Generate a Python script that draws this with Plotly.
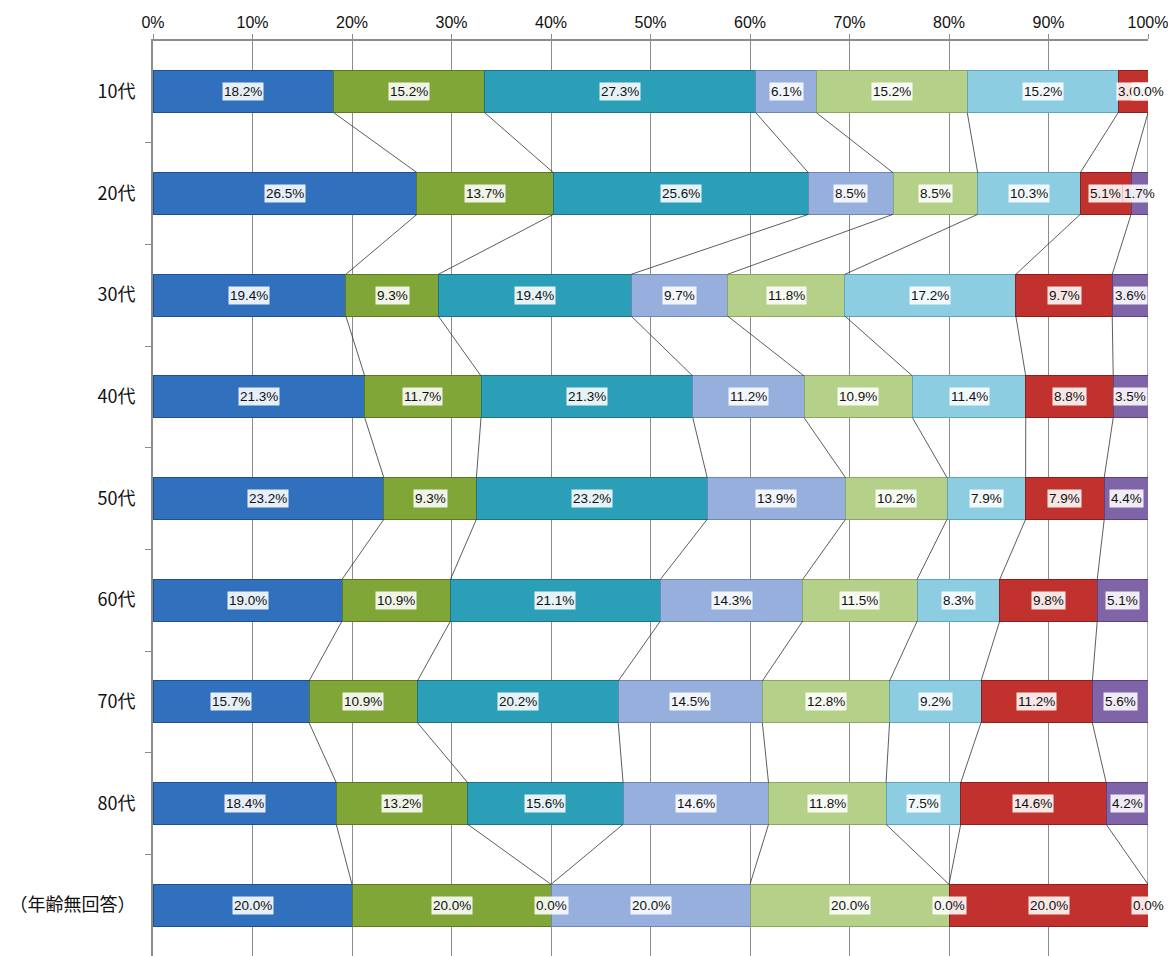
import numpy as np
import plotly.graph_objects as go

# age groups (rows, top to bottom)
categories = ['10代', '20代', '30代', '40代', '50代', '60代', '70代', '80代', '（年齢無回答）']

# one list per series, values in % for each age group
s1 = [18.2, 26.5, 19.4, 21.3, 23.2, 19.0, 15.7, 18.4, 20.0]
s2 = [15.2, 13.7, 9.3, 11.7, 9.3, 10.9, 10.9, 13.2, 20.0]
s3 = [27.3, 25.6, 19.4, 21.3, 23.2, 21.1, 20.2, 15.6, 0.0]
s4 = [6.1, 8.5, 9.7, 11.2, 13.9, 14.3, 14.5, 14.6, 20.0]
s5 = [15.2, 8.5, 11.8, 10.9, 10.2, 11.5, 12.8, 11.8, 20.0]
s6 = [15.2, 10.3, 17.2, 11.4, 7.9, 8.3, 9.2, 7.5, 0.0]
s7 = [3.0, 5.1, 9.7, 8.8, 7.9, 9.8, 11.2, 14.6, 20.0]
s8 = [0.0, 1.7, 3.6, 3.5, 4.4, 5.1, 5.6, 4.2, 0.0]

x_ticks = list(range(0, 101, 10))

series = [s1, s2, s3, s4, s5, s6, s7, s8]
colors = ['#3170bd', '#7fa636', '#2c9fb8', '#97afdc',
          '#b5d089', '#8ccde2', '#c1322e', '#8064a8']
edges = ['#1f4f8c', '#5b7a22', '#1d7488', '#6d86b8',
         '#8aa862', '#5fa6bd', '#8f1f1c', '#5a4380']

BAR_W = 0.41
rows = np.arange(len(categories))
vals = np.array(series, dtype=float)          # series x rows
cum = np.cumsum(vals, axis=0) / vals.sum(axis=0) * 100
start = cum - vals / vals.sum(axis=0) * 100

fig = go.Figure()

for k, s in enumerate(series):
    fig.add_trace(go.Bar(
        y=rows, x=s, orientation='h', width=BAR_W,
        marker=dict(color=colors[k], line=dict(color=edges[k], width=1)),
        hoverinfo='skip', showlegend=False,
    ))

# connector lines between the series edges of neighbouring rows
lx, ly = [], []
for k in range(len(series)):
    for i in range(len(categories) - 1):
        lx += [cum[k, i], cum[k, i + 1], None]
        ly += [i + BAR_W / 2, i + 1 - BAR_W / 2, None]
fig.add_trace(go.Scatter(
    x=lx, y=ly, mode='lines', line=dict(color='#333333', width=0.8),
    hoverinfo='skip', showlegend=False,
))

for k, s in enumerate(series):
    for i, v in enumerate(s):
        fig.add_annotation(
            x=(start[k, i] + cum[k, i]) / 2, y=i, text=f'{v:.1f}%',
            showarrow=False, bgcolor='rgba(255,255,255,0.88)', borderpad=1,
            font=dict(family='Liberation Sans, Arial', size=13.5, color='#111111'),
        )

# page body adds an 8px margin, so the figure is offset by 8px
fig.update_layout(
    barmode='stack', barnorm='percent',
    width=1168, height=948,
    margin=dict(l=145, r=28, t=33, b=0),
    plot_bgcolor='white', paper_bgcolor='white',
    font=dict(family='Noto Sans CJK JP', color='#111111'),
)
fig.update_xaxes(
    side='top', range=[0, 100], tickvals=x_ticks,
    ticktext=[f'{t}%' for t in x_ticks],
    showgrid=True, gridcolor='#8c8c8c', gridwidth=1,
    showline=True, linecolor='#8c8c8c', linewidth=2,
    ticks='outside', ticklen=5, tickcolor='#8c8c8c',
    tickfont=dict(family='Liberation Sans, Arial', size=16), zeroline=False,
)
fig.update_yaxes(
    range=[len(categories) - 0.5, -0.5],
    tickvals=list(rows), ticktext=categories,
    showgrid=False, zeroline=False,
    showline=True, linecolor='#8c8c8c', linewidth=2,
    ticks='', ticklabelstandoff=12, tickfont=dict(size=18),
    minor=dict(tickvals=[r + 0.5 for r in rows[:-1]], ticks='outside',
               ticklen=6, tickcolor='#8c8c8c', showgrid=False),
)

fig.write_html('out.html')
